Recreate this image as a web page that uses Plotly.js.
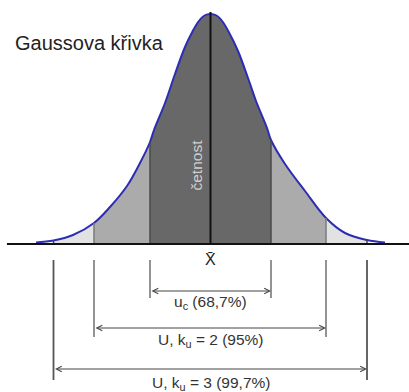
<!DOCTYPE html>
<html>
<head>
<meta charset="utf-8">
<script src="https://cdn.plot.ly/plotly-3.0.1.min.js"></script>
<style>html,body{margin:0;padding:0;background:#fff;}#chart{width:409px;height:392px;}</style>
</head>
<body>
<div id="chart"></div>
<script>
// Curve: offset from the mean (px-like units) and height above the baseline
const curveX = [-174.5, -157, -137.5, -116.5, -100.5, -83.5, -70.5, -60.5, -56.5, -45.5, -35.5, -25.5, -18, -12, -6, 0, 6, 12, 18, 27.5, 37.5, 45.5, 56.5, 60.5, 74.5, 94.5, 115.5, 134.5, 156.5, 174.5];
const curveY = [1.5, 3.5, 9, 21, 37, 58, 81, 102, 114, 141, 170, 197, 212.5, 222.5, 228.5, 230, 228.5, 222.5, 212.5, 193, 166, 143, 116, 104, 80, 53, 26, 11, 4, 1.5];

// Interval edges (±u_c, ±2u_c, ±3u_c as drawn)
const edges1 = [-60.5, 60.5];
const edges2 = [-116.5, 115.5];
const edges3 = [-157, 156.5];

// Texts
const titleText = 'Gaussova křivka';
const freqText = 'četnost';
const meanText = 'X̄';
const rangeLabels = ['u<sub>c</sub> (68,7%)', 'U, k<sub>u</sub> = 2 (95%)', 'U, k<sub>u</sub> = 3 (99,7%)'];

function seg(a, b) {
  const xs = [], ys = [];
  curveX.forEach((x, i) => { if (x >= a && x <= b) { xs.push(x); ys.push(curveY[i]); } });
  return {x: xs, y: ys};
}
function hAt(x) { return curveY[curveX.indexOf(x)]; }

function fillTrace(a, b, color) {
  const s = seg(a, b);
  return {x: s.x, y: s.y, type: 'scatter', mode: 'lines', fill: 'tozeroy',
    fillcolor: color, line: {width: 0, shape: 'spline', color: color}, hoverinfo: 'skip'};
}

const traces = [
  fillTrace(edges3[0], edges2[0], '#e2e2e2'),
  fillTrace(edges2[1], edges3[1], '#e2e2e2'),
  fillTrace(edges2[0], edges1[0], '#ababab'),
  fillTrace(edges1[1], edges2[1], '#ababab'),
  fillTrace(edges1[0], edges1[1], '#686868'),
  {x: curveX, y: curveY, type: 'scatter', mode: 'lines',
   line: {color: '#2d2db4', width: 2, shape: 'spline'}, hoverinfo: 'skip'}
];

const shapes = [];
// vertical edges under the curve
[[edges1, '#4a4a4a', 1.5], [edges2, '#7a7a7a', 1.5], [edges3, '#444', 1.5]].forEach(([e, c, w]) => {
  e.forEach(x => shapes.push({type: 'line', xref: 'x', yref: 'y', x0: x, x1: x, y0: 0, y1: hAt(x), line: {color: c, width: w}}));
});
// mean line
shapes.push({type: 'line', xref: 'x', yref: 'y', x0: 0, x1: 0, y0: 0, y1: 232, line: {color: '#111', width: 2}});
// baseline
shapes.push({type: 'line', xref: 'paper', yref: 'y', x0: 0.017, x1: 1, y0: 0, y1: 0, line: {color: '#111', width: 2}});

// bracket verticals and arrows
const bracketBottoms = [-54, -93, -136];
const arrowYs = [-47, -84, -125];
const labelYs = [-58, -96, -139];
const bracketColors = ['#888', '#888', '#555'];
[edges1, edges2, edges3].forEach((e, i) => {
  e.forEach(x => shapes.push({type: 'line', xref: 'x', yref: 'y', x0: x, x1: x, y0: -16, y1: bracketBottoms[i], line: {color: bracketColors[i], width: 1.8}}));
});

const annotations = [
  {x: -121, y: 201, xref: 'x', yref: 'y', text: titleText, showarrow: false,
   font: {family: 'Liberation Sans, Arial, sans-serif', size: 20, color: '#222'}},
  {x: -15, y: 79, xref: 'x', yref: 'y', text: freqText, showarrow: false, textangle: -90,
   font: {family: 'Liberation Sans, Arial, sans-serif', size: 15.5, color: '#cfcfcf'}},
  {x: 0, y: -15, xref: 'x', yref: 'y', text: meanText, showarrow: false,
   font: {family: 'Liberation Sans, Arial, sans-serif', size: 16, color: '#222'}}
];
[edges1, edges2, edges3].forEach((e, i) => {
  annotations.push({x: e[1], y: arrowYs[i], ax: e[0], ay: arrowYs[i], xref: 'x', yref: 'y', axref: 'x', ayref: 'y',
    text: '', showarrow: true, arrowside: 'end+start', arrowhead: 5, arrowsize: 1.1, arrowwidth: 1, arrowcolor: '#444', standoff: 0, startstandoff: 0});
  annotations.push({x: 0, y: labelYs[i], xref: 'x', yref: 'y', text: rangeLabels[i], showarrow: false,
    font: {family: 'Liberation Sans, Arial, sans-serif', size: 15.5, color: '#333'}});
});

const layout = {
  width: 409, height: 392,
  margin: {l: 0, r: 0, t: 0, b: 0},
  paper_bgcolor: '#fff', plot_bgcolor: '#fff',
  showlegend: false,
  xaxis: {range: [-210.5, 198.5], visible: false, fixedrange: true},
  yaxis: {range: [-148, 244], visible: false, fixedrange: true},
  shapes: shapes,
  annotations: annotations,
  hovermode: false
};

Plotly.newPlot('chart', traces, layout, {staticPlot: true, displayModeBar: false});
</script>
</body>
</html>
